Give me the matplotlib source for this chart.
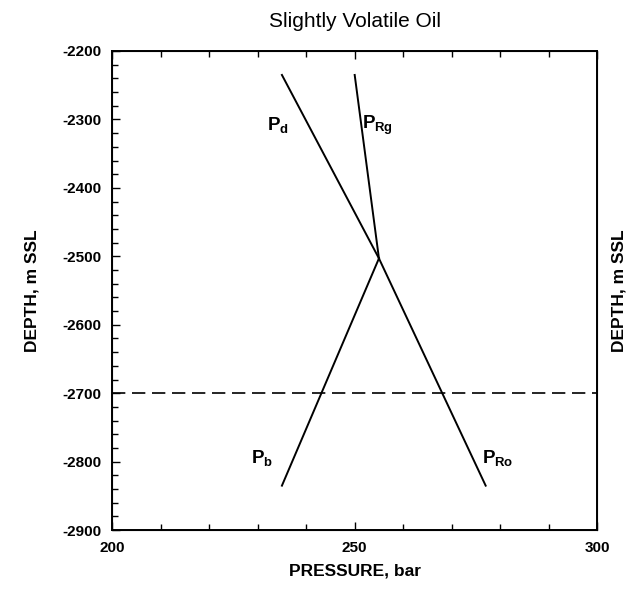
import matplotlib
matplotlib.use("Agg")
import matplotlib.pyplot as plt
from matplotlib.ticker import MultipleLocator

plt.rcParams['font.family'] = ['Liberation Sans', 'DejaVu Sans']
plt.rcParams['mathtext.fontset'] = 'custom'
plt.rcParams['mathtext.rm'] = 'Liberation Sans:bold'
plt.rcParams['mathtext.it'] = 'Liberation Sans:bold'

# pressure (bar) / depth (m SSL) end points of each gradient line
pd_pressure = [235.0, 255.0]
pd_depth = [-2235, -2503]
prg_pressure = [250.0, 255.0]
prg_depth = [-2235, -2503]
pb_pressure = [255.0, 235.0]
pb_depth = [-2503, -2835]
pro_pressure = [255.0, 277.0]
pro_depth = [-2503, -2835]

contact_depth = -2700

labels = ['$P_d$', '$P_{Rg}$', '$P_b$', '$P_{Ro}$']
label_pressure = [234.2, 254.8, 230.9, 279.4]
label_depth = [-2308, -2308, -2795, -2795]

xticks = [200, 250, 300]
yticks = [-2200, -2300, -2400, -2500, -2600, -2700, -2800, -2900]

fig = plt.figure(figsize=(6.3, 5.93), dpi=100)
ax = fig.add_axes([0.178, 0.106, 0.770, 0.808])

for p, d in [(pd_pressure, pd_depth), (prg_pressure, prg_depth),
             (pb_pressure, pb_depth), (pro_pressure, pro_depth)]:
    ax.plot(p, d, color='black', lw=1.4)

ax.axhline(contact_depth, color='black', lw=1.2, dashes=(8, 4))

for txt, x, y in zip(labels, label_pressure, label_depth):
    ax.text(x, y, txt, fontsize=13.5, ha='center', va='center')

ax.set_xlim(200, 300)
ax.set_ylim(-2900, -2200)
ax.set_xticks(xticks)
ax.set_xticklabels([str(t) for t in xticks])
ax.set_yticks(yticks)
ax.set_yticklabels(['-%d' % abs(t) for t in yticks])
ax.xaxis.set_minor_locator(MultipleLocator(10))
ax.yaxis.set_minor_locator(MultipleLocator(20))
ax.tick_params(which='both', direction='in', top=True, right=True,
               labelsize=11, width=1.0)
ax.tick_params(which='major', length=6, pad=8)
ax.tick_params(which='minor', length=4)
for lab in ax.get_xticklabels() + ax.get_yticklabels():
    lab.set_fontweight('bold')
for s in ax.spines.values():
    s.set_linewidth(1.4)

ax.set_xlabel('PRESSURE, bar', fontsize=12.5, fontweight='bold', labelpad=6)
ax.set_ylabel('DEPTH, m SSL', fontsize=12.5, fontweight='bold', labelpad=16)
ax.set_title('Slightly Volatile Oil', fontsize=15, pad=17)

ax2 = ax.twinx()
ax2.set_ylim(ax.get_ylim())
ax2.set_yticks([])
ax2.set_ylabel('DEPTH, m SSL', fontsize=12.5, fontweight='bold', labelpad=10)

fig.savefig('out.png', dpi=100)
